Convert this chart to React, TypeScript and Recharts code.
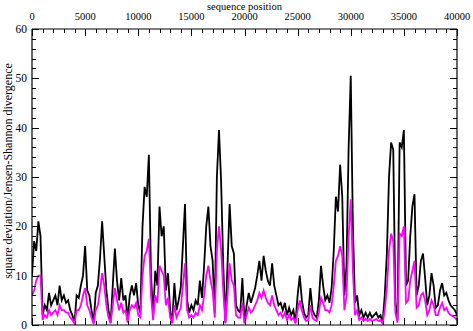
import React from "react";
import { LineChart, Line, XAxis, YAxis } from "recharts";

const positions = [
  0, 200, 400, 600, 800, 1000, 1200, 1400, 1600, 1800,
  2000, 2200, 2400, 2600, 2800, 3000, 3200, 3400, 3600, 3800,
  4000, 4200, 4400, 4600, 4800, 5000, 5200, 5400, 5600, 5800,
  6000, 6200, 6400, 6600, 6800, 7000, 7200, 7400, 7600, 7800,
  8000, 8200, 8400, 8600, 8800, 9000, 9200, 9400, 9600, 9800,
  10000, 10200, 10400, 10600, 10800, 11000, 11200, 11400, 11600, 11800,
  12000, 12200, 12400, 12600, 12800, 13000, 13200, 13400, 13600, 13800,
  14000, 14200, 14400, 14600, 14800, 15000, 15200, 15400, 15600, 15800,
  16000, 16200, 16400, 16600, 16800, 17000, 17200, 17400, 17600, 17800,
  18000, 18200, 18400, 18600, 18800, 19000, 19200, 19400, 19600, 19800,
  20000, 20200, 20400, 20600, 20800, 21000, 21200, 21400, 21600, 21800,
  22000, 22200, 22400, 22600, 22800, 23000, 23200, 23400, 23600, 23800,
  24000, 24200, 24400, 24600, 24800, 25000, 25200, 25400, 25600, 25800,
  26000, 26200, 26400, 26600, 26800, 27000, 27200, 27400, 27600, 27800,
  28000, 28200, 28400, 28600, 28800, 29000, 29200, 29400, 29600, 29800,
  30000, 30200, 30400, 30600, 30800, 31000, 31200, 31400, 31600, 31800,
  32000, 32200, 32400, 32600, 32800, 33000, 33200, 33400, 33600, 33800,
  34000, 34200, 34400, 34600, 34800, 35000, 35200, 35400, 35600, 35800,
  36000, 36200, 36400, 36600, 36800, 37000, 37200, 37400, 37600, 37800,
  38000, 38200, 38400, 38600, 38800, 39000, 39200, 39400, 39600, 39800,
  40000,
];

const squareDeviation = [
  10, 17, 15, 21, 18, 2, 4, 3, 6.5, 4,
  5, 6, 4, 8, 5, 6, 4.5, 5, 3, 2,
  0.5, 6, 5.5, 8, 10, 16, 7, 6, 3, 0.5,
  6.5, 8, 13.5, 21, 14, 7, 3, 0.5, 8, 15.5,
  9, 5, 9.5, 5, 6, 1, 6, 8, 6, 8.5,
  4, 2.5, 20, 28, 26, 34.5, 10, 2, 11, 8,
  24, 18, 20, 7, 10.5, 3, 0.5, 8.5, 3, 5,
  7.5, 16, 24.5, 5, 2.5, 4, 3, 5, 4, 9,
  5.5, 12, 20, 24, 16, 13, 2.5, 30, 39.5, 29,
  12, 0.5, 12, 24.5, 16, 14.5, 4, 3, 2.5, 9.5,
  0.5, 4, 6.5, 4.5, 6, 7.5, 10, 13, 9, 14,
  11, 9, 8, 12.5, 8, 6, 4, 4.5, 3, 4.5,
  2, 3.5, 2, 3, 0.5, 6, 10, 5, 2.5, 1.5,
  2, 7.5, 3, 2, 1.5, 5, 12, 8, 5, 6,
  4.5, 7.5, 15, 26, 23, 32.5, 26, 6, 12, 36,
  50.5, 20, 4.5, 6, 2, 3, 1.5, 2.5, 1.5, 2.5,
  1.5, 2, 2.5, 1.5, 2, 0.5, 6, 14.5, 30, 37,
  35.5, 4.5, 1, 37, 36, 39.5, 8, 9, 18, 24,
  26.5, 6, 8, 13, 14.5, 9.5, 4, 6, 10.5, 8,
  3.5, 4, 7, 8.5, 6, 6.5, 5, 4, 3.5, 3,
  2,
];

const jensenShannon = [
  6, 7, 9, 10, 10, 1, 2, 1.5, 3, 2,
  2.5, 3, 2, 4, 3, 3, 2.5, 2.5, 1.5, 1,
  0.3, 3, 3, 4, 6, 7.5, 4, 3, 1.5, 0.2,
  3, 4, 7, 10.5, 8, 4, 1.5, 0.3, 4, 7.5,
  5, 3, 4.5, 2.5, 3, 0.5, 3, 4, 3.5, 4.5,
  2, 1.5, 10, 14, 15, 17.5, 6, 1, 6, 4.5,
  12, 11, 10, 4, 5.5, 1.5, 0.3, 4, 1.5, 2.5,
  3.5, 8, 12.5, 3, 1.5, 2, 1.5, 2.5, 2, 4,
  3, 6, 10, 12, 9, 7, 1.5, 15, 20, 15,
  7, 0.3, 6, 12.5, 9, 8, 2, 1.5, 1.5, 4.5,
  0.3, 2, 3.5, 2.5, 3, 4, 5, 6.5, 5.5, 7,
  5.5, 4.5, 4, 6, 4, 3, 2, 2.5, 1.5, 2.5,
  1, 2, 1, 1.5, 0.3, 3, 5, 3, 1.5, 0.8,
  1, 4, 1.5, 1, 0.8, 2.5, 5.5, 4.5, 3, 3,
  2.5, 4, 8, 13, 14, 16, 14, 3, 6, 18,
  25.5, 11, 2, 3, 1, 1.5, 0.8, 1.3, 0.8, 1.2,
  0.8, 1, 1.2, 0.8, 1, 0.3, 3, 7.5, 15, 18.5,
  17, 2.5, 0.5, 18.5, 18, 20, 4.5, 5, 9, 11,
  13, 3.5, 4, 6, 6.5, 5, 2, 3, 5, 4,
  2, 2, 3.5, 4.5, 3, 3.5, 2.5, 2, 1.8, 1.5,
  1,
];

// every 1000 along x (labels only on multiples of 5000)
const xTicks = [
  0, 1000, 2000, 3000, 4000, 5000, 6000, 7000, 8000, 9000, 10000,
  11000, 12000, 13000, 14000, 15000, 16000, 17000, 18000, 19000, 20000,
  21000, 22000, 23000, 24000, 25000, 26000, 27000, 28000, 29000, 30000,
  31000, 32000, 33000, 34000, 35000, 36000, 37000, 38000, 39000, 40000,
];
// every 2 along y (labels only on multiples of 10)
const yTicks = [
  0, 2, 4, 6, 8, 10, 12, 14, 16, 18, 20, 22, 24, 26, 28, 30,
  32, 34, 36, 38, 40, 42, 44, 46, 48, 50, 52, 54, 56, 58, 60,
];

const xTitle = "sequence position";
const yTitle = "square deviation/Jensen-Shannon divergence";

const data = positions.map((x, i) => ({
  x,
  sd: squareDeviation[i],
  js: jensenShannon[i],
}));

const FONT = "'Times New Roman', 'Liberation Serif', Times, serif";
const xDomain: [number, number] = [0, 40000];
const yDomain: [number, number] = [0, 60];
const MAJOR = 7;
const MINOR = 4;
const TC = "#000";

const TopTick = (props: any) => {
  const { x, y, payload } = props;
  const major = payload.value % 5000 === 0;
  const px = Math.round(x) + 0.5;
  return (
    <g>
      <line x1={px} y1={y} x2={px} y2={y + (major ? MAJOR : MINOR)} stroke={TC} strokeWidth={1} />
      {major && (
        <text x={x} y={y - 9} textAnchor="middle" fill="#000" fontSize={10.5} style={{ fontFamily: FONT }}>
          {payload.value}
        </text>
      )}
    </g>
  );
};

const BottomTick = (props: any) => {
  const { x, y, payload } = props;
  const major = payload.value % 5000 === 0;
  const px = Math.round(x) + 0.5;
  return <line x1={px} y1={y} x2={px} y2={y - (major ? MAJOR : MINOR)} stroke={TC} strokeWidth={1} />;
};

const LeftTick = (props: any) => {
  const { x, y, payload } = props;
  const major = payload.value % 10 === 0;
  const py = Math.round(y) + 0.5;
  return (
    <g>
      <line x1={x} y1={py} x2={x + (major ? MAJOR : MINOR)} y2={py} stroke={TC} strokeWidth={1} />
      {major && (
        <text x={x - 5} y={y} dy="0.35em" textAnchor="end" fill="#000" fontSize={11.5} style={{ fontFamily: FONT }}>
          {payload.value}
        </text>
      )}
    </g>
  );
};

const RightTick = (props: any) => {
  const { x, y, payload } = props;
  const major = payload.value % 10 === 0;
  const py = Math.round(y) + 0.5;
  return <line x1={x} y1={py} x2={x - (major ? MAJOR : MINOR)} y2={py} stroke={TC} strokeWidth={1} />;
};

const XTitle = (props: any) => {
  const vb = props.viewBox || { x: 32, width: 425 };
  return (
    <text x={vb.x + vb.width / 2} y={10} textAnchor="middle" fill="#000" fontSize={10.5} style={{ fontFamily: FONT }}>
      {xTitle}
    </text>
  );
};

const YTitle = (props: any) => {
  const vb = props.viewBox || { y: 29, height: 296 };
  const cx = 8;
  const cy = vb.y + vb.height / 2 - 6;
  return (
    <text
      x={cx}
      y={cy}
      dy="0.35em"
      transform={`rotate(-90 ${cx} ${cy})`}
      textAnchor="middle"
      fill="#000"
      fontSize={12}
      style={{ fontFamily: FONT }}
    >
      {yTitle}
    </text>
  );
};

export default function App() {
  const axisStroke = { stroke: "#000", strokeWidth: 1.2 };
  return (
    <div style={{ position: "absolute", left: 0, top: 0, width: 473, height: 331, background: "#fff" }}>
      <LineChart
        width={473}
        height={331}
        data={data}
        margin={{ top: 28, right: 15, bottom: 5, left: 31 }}
      >
        <XAxis
          xAxisId="t"
          dataKey="x"
          type="number"
          orientation="top"
          domain={xDomain}
          allowDataOverflow
          ticks={xTicks}
          interval={0}
          height={1}
          tickSize={0}
          tickMargin={0}
          tickLine={false}
          axisLine={axisStroke}
          tick={<TopTick />}
          label={{ content: <XTitle /> }}
        />
        <XAxis
          xAxisId="b"
          dataKey="x"
          type="number"
          orientation="bottom"
          domain={xDomain}
          allowDataOverflow
          ticks={xTicks}
          interval={0}
          height={1}
          tickSize={0}
          tickMargin={0}
          tickLine={false}
          axisLine={axisStroke}
          tick={<BottomTick />}
        />
        <YAxis
          yAxisId="l"
          type="number"
          orientation="left"
          domain={yDomain}
          allowDataOverflow
          ticks={yTicks}
          interval={0}
          width={1}
          tickSize={0}
          tickMargin={0}
          tickLine={false}
          axisLine={axisStroke}
          tick={<LeftTick />}
          label={{ content: <YTitle /> }}
        />
        <YAxis
          yAxisId="r"
          type="number"
          orientation="right"
          domain={yDomain}
          allowDataOverflow
          ticks={yTicks}
          interval={0}
          width={1}
          tickSize={0}
          tickMargin={0}
          tickLine={false}
          axisLine={axisStroke}
          tick={<RightTick />}
        />

        <Line
          xAxisId="t"
          yAxisId="l"
          type="linear"
          dataKey="sd"
          stroke="#000000"
          strokeWidth={1.8}
          dot={false}
          activeDot={false}
          isAnimationActive={false}
        />
        <Line
          xAxisId="b"
          yAxisId="r"
          type="linear"
          dataKey="js"
          stroke="#ff00ff"
          strokeWidth={1.8}
          dot={false}
          activeDot={false}
          isAnimationActive={false}
        />
      </LineChart>
    </div>
  );
}
